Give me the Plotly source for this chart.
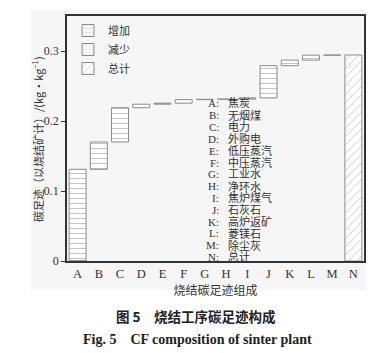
import plotly.graph_objects as go
import numpy as np

categories = ["A", "B", "C", "D", "E", "F", "G", "H", "I", "J", "K", "L", "M", "N"]
increase_values = [0.131, 0.039, 0.049, 0.005, 0.0015, 0.005, 0.0005, 0.0003, 0.0017, 0.046, 0.008, 0.007, 0.0003]
total_value = 0.2943
item_names = ["焦炭", "无烟煤", "电力", "外购电", "低压蒸汽", "中压蒸汽", "工业水",
              "净环水", "焦炉煤气", "石灰石", "高炉返矿", "菱镁石", "除尘灰", "总计"]
y_ticks = [0, 0.1, 0.2, 0.3]
y_tick_labels = ["0", "0.1", "0.2", "0.3"]

W, H = 389, 353
L, R, T, B = 67, 25, 16, 92
pw, ph = W - L - R, H - T - B

def px(x):
    return (x - L) / pw

def py(y):
    return (H - B - y) / ph

bases = np.concatenate([[0], np.cumsum(increase_values)[:-1]])

edge = "#8a8a8a"
fig = go.Figure()
fig.add_trace(go.Bar(
    x=categories[:-1], y=increase_values, base=bases, name="增加", width=0.8,
    marker=dict(color="white", line=dict(color=edge, width=1),
                pattern=dict(shape="-", fgcolor=edge, bgcolor="white", size=5, solidity=0.2)),
))
fig.add_trace(go.Bar(
    x=[categories[0]], y=[0], base=[0], name="减少", width=0.8,
    marker=dict(color="white", line=dict(color=edge, width=1),
                pattern=dict(shape="|", fgcolor=edge, bgcolor="white", size=4, solidity=0.2)),
))
fig.add_trace(go.Bar(
    x=[categories[-1]], y=[total_value], name="总计", width=0.8,
    marker=dict(color="white", line=dict(color=edge, width=1),
                pattern=dict(shape="/", fgcolor=edge, bgcolor="white", size=6, solidity=0.15)),
))

serif = "Liberation Serif, Times New Roman, serif"
cjk = "Noto Sans CJK SC"
mixed = "Liberation Serif, Noto Sans CJK SC"
txt = "#333333"

annotations = []
y0 = 103.5
step = 11.8
for i, (c, n) in enumerate(zip(categories, item_names)):
    yy = y0 + i * step
    annotations.append(dict(x=px(221), y=py(yy), xref="paper", yref="paper", text=c + ":",
                            showarrow=False, xanchor="right", yanchor="middle",
                            font=dict(family=serif, size=11, color=txt)))
    annotations.append(dict(x=px(226), y=py(yy), xref="paper", yref="paper", text=n,
                            showarrow=False, xanchor="left", yanchor="middle",
                            font=dict(family=mixed, size=11, color=txt)))
annotations.append(dict(x=px(37), y=py(139), xref="paper", yref="paper", textangle=-90,
                        text="碳足迹（以烧结矿计）/(kg·kg<sup>−1</sup>)", showarrow=False,
                        xanchor="center", yanchor="middle",
                        font=dict(family=cjk, size=11, color=txt)))
annotations.append(dict(x=px(196), y=py(316), xref="paper", yref="paper",
                        text="<b>图 5　烧结工序碳足迹构成</b>", showarrow=False,
                        xanchor="center", yanchor="middle",
                        font=dict(family=cjk, size=13.5, color="#222")))
annotations.append(dict(x=px(197), y=py(339), xref="paper", yref="paper",
                        text="<b>Fig. 5　CF composition of sinter plant</b>", showarrow=False,
                        xanchor="center", yanchor="middle",
                        font=dict(family=serif, size=14, color="#222")))

fig.update_layout(
    width=W, height=H, margin=dict(l=L, r=R, t=T, b=B),
    paper_bgcolor="white", plot_bgcolor="white",
    barmode="overlay", bargap=0.2,
    showlegend=True,
    legend=dict(x=px(68), y=py(16), xanchor="left", yanchor="top",
                bgcolor="rgba(0,0,0,0)", font=dict(family=cjk, size=11, color=txt),
                tracegroupgap=0, itemwidth=30),
    annotations=annotations,
    shapes=[dict(type="rect", xref="paper", yref="paper", x0=px(31), x1=px(366),
                 y0=py(290), y1=py(10), fillcolor="#f6f6f6", line=dict(width=0), layer="below")],
    xaxis=dict(range=[-0.5, 13.5], showline=True, linecolor="#333", linewidth=1.5, mirror=True,
               ticks="", tickfont=dict(family=serif, size=12.5, color=txt),
               title=dict(text="烧结碳足迹组成", font=dict(family=cjk, size=12, color=txt), standoff=2)),
    yaxis=dict(range=[0, 0.35], showline=True, linecolor="#333", linewidth=1.5, mirror=True,
               tickvals=y_ticks, ticktext=y_tick_labels, ticks="outside", ticklen=4,
               tickcolor="#333", showgrid=False, zeroline=False,
               tickfont=dict(family=serif, size=12, color=txt)),
)
fig.update_xaxes(showgrid=False)
fig.write_html("out.html")
